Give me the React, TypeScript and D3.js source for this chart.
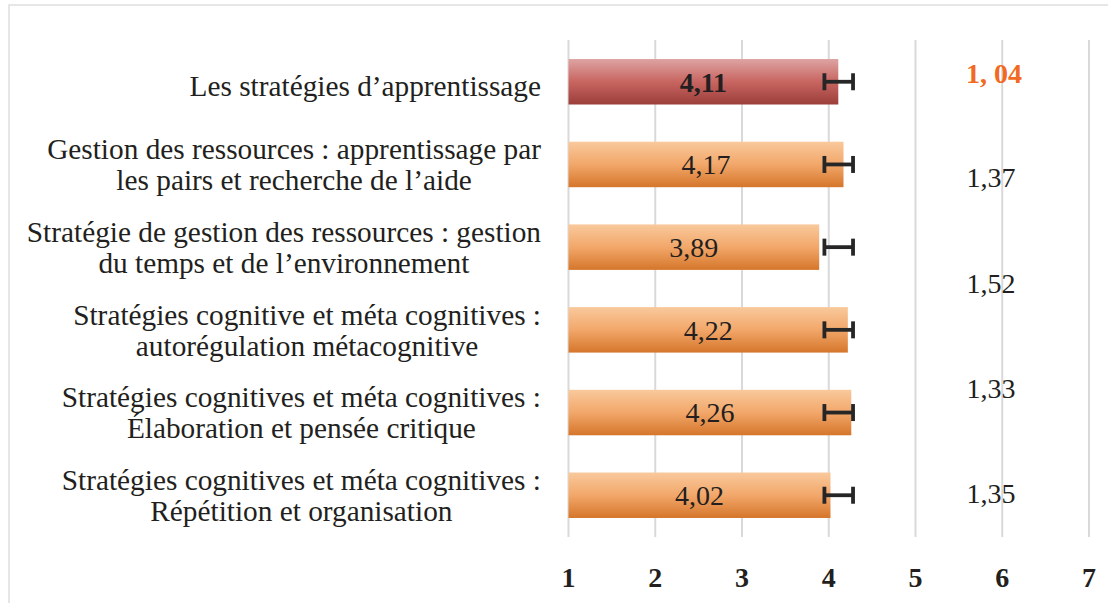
import {useEffect, useRef} from 'react';
import * as d3 from 'd3';

const categories: string[][] = [
  ['Les stratégies d\u2019apprentissage'],
  ['Gestion des ressources : apprentissage par', 'les pairs et recherche de l\u2019aide'],
  ['Stratégie de gestion des ressources : gestion', 'du temps et de l\u2019environnement'],
  ['Stratégies cognitive et méta cognitives :', 'autorégulation métacognitive'],
  ['Stratégies cognitives et méta cognitives :', 'Élaboration et pensée critique'],
  ['Stratégies cognitives et méta cognitives :', 'Répétition et organisation'],
];
const means = [4.11, 4.17, 3.89, 4.22, 4.26, 4.02];
const meanLabels = ['4,11', '4,17', '3,89', '4,22', '4,26', '4,02'];
const errLow = [3.95, 3.95, 3.95, 3.95, 3.95, 3.95];
const errHigh = [4.28, 4.28, 4.28, 4.28, 4.28, 4.28];
const sdLabels = ['1, 04', '1,37', '1,52', '1,33', '1,35'];
const sdRows = [-0.1, 1.15, 2.44, 3.71, 4.98];
const ticks = [1, 2, 3, 4, 5, 6, 7];

const W = 1108;
const H = 603;
const FONT = '"Liberation Serif", "Times New Roman", serif';
const INK = '#231f20';

export default function App() {
  const svgRef = useRef<SVGSVGElement>(null);

  useEffect(() => {
    if (!svgRef.current) return;
    const svg = d3.select(svgRef.current);
    svg.selectAll('*').remove();

    const defs = svg.append('defs');
    const grad = (id: string, stops: string[]) => {
      const g = defs.append('linearGradient').attr('id', id).attr('x1', 0).attr('x2', 0).attr('y1', 0).attr('y2', 1);
      stops.forEach((c, i) => g.append('stop').attr('offset', `${(i / (stops.length - 1)) * 100}%`).attr('stop-color', c));
    };
    grad('gOrange', ['#f9c99c', '#f2a76a', '#d5762b']);
    grad('gRed', ['#dda4a3', '#c86561', '#9b3e3a']);

    svg.append('rect').attr('width', W).attr('height', H).attr('fill', '#fff');

    // frame
    svg.append('path').attr('d', `M9,${H} V5 H${W}`).attr('fill', 'none').attr('stroke', '#dedede').attr('stroke-width', 1.5);

    const x = d3.scaleLinear().domain([1, 7]).range([568.5, 1089]);
    const y = d3
      .scaleBand<number>()
      .domain(d3.range(categories.length))
      .range([40, 537])
      .paddingInner(0.45)
      .paddingOuter(0.23);
    const yRow = d3
      .scaleLinear()
      .domain([0, categories.length - 1])
      .range([y(0)! + y.bandwidth() / 2, y(categories.length - 1)! + y.bandwidth() / 2]);

    // gridlines
    svg
      .append('g')
      .selectAll('line')
      .data(ticks)
      .join('line')
      .attr('x1', (d) => x(d))
      .attr('x2', (d) => x(d))
      .attr('y1', 40)
      .attr('y2', 537)
      .attr('stroke', '#d9d9d9')
      .attr('stroke-width', 2);

    // tick labels
    svg
      .append('g')
      .selectAll('text')
      .data(ticks)
      .join('text')
      .attr('x', (d) => x(d))
      .attr('y', 587)
      .attr('text-anchor', 'middle')
      .attr('font-family', FONT)
      .attr('font-size', 28)
      .attr('font-weight', 'bold')
      .attr('fill', INK)
      .text((d) => d);

    // bars
    svg
      .append('g')
      .selectAll('rect')
      .data(means)
      .join('rect')
      .attr('x', x(1))
      .attr('y', (d, i) => y(i)!)
      .attr('width', (d) => x(d) - x(1))
      .attr('height', y.bandwidth())
      .attr('fill', (d, i) => (i === 0 ? 'url(#gRed)' : 'url(#gOrange)'));

    // bar value labels
    svg
      .append('g')
      .selectAll('text')
      .data(means)
      .join('text')
      .attr('x', (d) => (x(1) + x(d)) / 2)
      .attr('y', (d, i) => y(i)! + y.bandwidth() / 2)
      .attr('dy', '0.35em')
      .attr('text-anchor', 'middle')
      .attr('font-family', FONT)
      .attr('font-size', 28)
      .attr('font-weight', (d, i) => (i === 0 ? 'bold' : 'normal'))
      .attr('fill', INK)
      .text((d, i) => meanLabels[i]);

    // error bars
    const eb = svg
      .append('g')
      .selectAll('g')
      .data(means)
      .join('g')
      .attr('transform', (d, i) => `translate(0,${y(i)! + y.bandwidth() / 2})`)
      .attr('stroke', '#262626')
      .attr('stroke-width', 3.8);
    eb.append('line').attr('x1', (d, i) => x(errLow[i])).attr('x2', (d, i) => x(errHigh[i]));
    eb.append('line').attr('x1', (d, i) => x(errLow[i])).attr('x2', (d, i) => x(errLow[i])).attr('y1', -8.5).attr('y2', 8.5);
    eb.append('line').attr('x1', (d, i) => x(errHigh[i])).attr('x2', (d, i) => x(errHigh[i])).attr('y1', -8.5).attr('y2', 8.5);

    // category labels: block right-aligned, lines centred inside the block
    const lineH = 31;
    categories.forEach((lines, i) => {
      const cy = y(i)! + y.bandwidth() / 2 + (lines.length === 1 ? 4 : 0);
      const g = svg.append('g');
      const texts = lines.map((t, j) =>
        g
          .append('text')
          .attr('y', cy + (j - (lines.length - 1) / 2) * lineH)
          .attr('dy', '0.35em')
          .attr('font-family', FONT)
          .attr('font-size', 29.3)
          .attr('fill', INK)
          .attr('text-anchor', 'middle')
          .text(t),
      );
      const widths = texts.map((t) => (t.node() as SVGTextElement).getComputedTextLength());
      const maxW = d3.max(widths) || 0;
      texts.forEach((t) => t.attr('x', 541 - maxW / 2));
    });

    // standard deviation labels
    svg
      .append('g')
      .selectAll('text')
      .data(sdLabels)
      .join('text')
      .attr('x', (d, i) => (i === 0 ? 994 : 991))
      .attr('y', (d, i) => yRow(sdRows[i]))
      .attr('dy', '0.35em')
      .attr('text-anchor', 'middle')
      .attr('font-family', FONT)
      .attr('font-size', 28)
      .attr('font-weight', (d, i) => (i === 0 ? 'bold' : 'normal'))
      .attr('fill', (d, i) => (i === 0 ? '#f26a21' : INK))
      .text((d) => d);
  }, []);

  return (
    <svg
      ref={svgRef}
      width={W}
      height={H}
      style={{position: 'absolute', left: 0, top: 0, display: 'block'}}
    />
  );
}
